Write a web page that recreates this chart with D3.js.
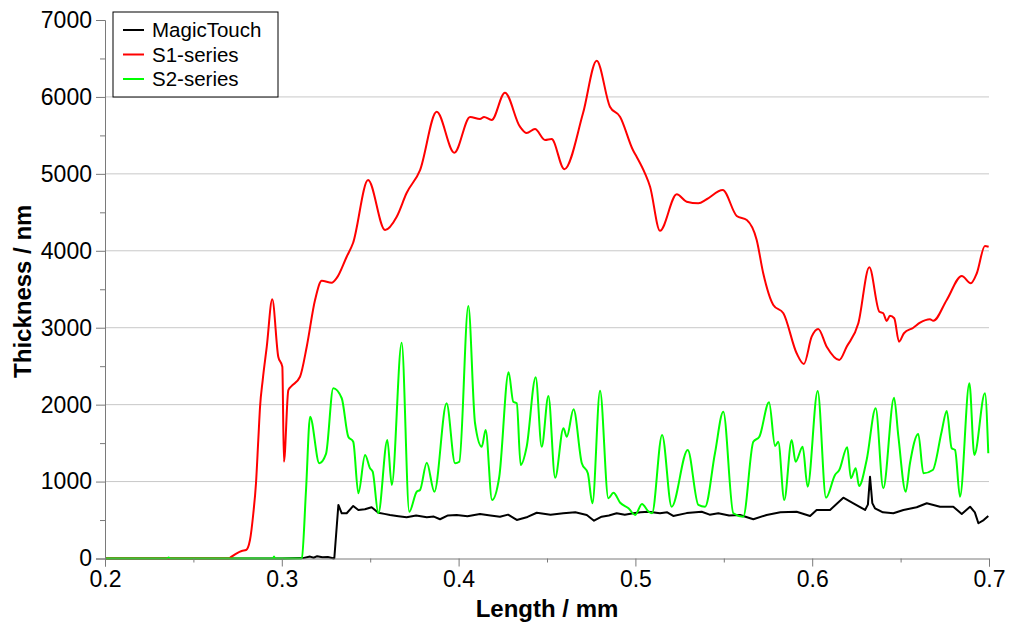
<!DOCTYPE html>
<html>
<head>
<meta charset="utf-8">
<script src="https://cdn.jsdelivr.net/npm/d3@7"></script>
<style>
  html, body { margin: 0; padding: 0; background: #fff; }
  svg { display: block; font-family: "Liberation Sans", Arial, sans-serif; }
</style>
</head>
<body>
<svg id="chart" width="1009" height="624"></svg>
<script>
// Film thickness profiles along the measured length (mm -> nm)
const magicTouchX = [0.2, 0.3, 0.312, 0.316, 0.318, 0.320, 0.323, 0.326, 0.3295, 0.3297, 0.3320, 0.3339, 0.3367, 0.3404, 0.3433, 0.3470, 0.3508, 0.3546, 0.3580, 0.3612, 0.3660, 0.3706, 0.3760, 0.3820, 0.3860, 0.3895, 0.3940, 0.3989, 0.4050, 0.4121, 0.4180, 0.4234, 0.4280, 0.4329, 0.4390, 0.4442, 0.4520, 0.4592, 0.4660, 0.4725, 0.4766, 0.4809, 0.4850, 0.4894, 0.4940, 0.4988, 0.5030, 0.5073, 0.5139, 0.5180, 0.5214, 0.5290, 0.5375, 0.5420, 0.5469, 0.5530, 0.5592, 0.5667, 0.5742, 0.5820, 0.5912, 0.5988, 0.6025, 0.6101, 0.6176, 0.6233, 0.6299, 0.6315, 0.6327, 0.6340, 0.6355, 0.6400, 0.6459, 0.6516, 0.6591, 0.6648, 0.6723, 0.6798, 0.6846, 0.6893, 0.6920, 0.6940, 0.6970, 0.6996];
const magicTouchY = [0, 0, 5, 25, 10, 30, 15, 20, 0, 3, 696, 588, 588, 683, 631, 640, 666, 595, 580, 566, 550, 536, 560, 536, 545, 510, 560, 566, 550, 579, 560, 543, 570, 501, 540, 595, 570, 588, 600, 566, 491, 543, 560, 588, 570, 588, 600, 608, 588, 600, 553, 590, 608, 570, 588, 560, 566, 510, 566, 600, 608, 553, 631, 631, 790, 718, 631, 700, 1063, 720, 653, 600, 588, 631, 666, 718, 673, 673, 579, 673, 600, 458, 500, 553];

const s1X = [0.2, 0.27, 0.2707, 0.2745, 0.2773, 0.2798, 0.2820, 0.2839, 0.2854, 0.2867, 0.2877, 0.2892, 0.2915, 0.2946, 0.2980, 0.3003, 0.3012, 0.3037, 0.3056, 0.3103, 0.3141, 0.3188, 0.3226, 0.3282, 0.3311, 0.3367, 0.3403, 0.3488, 0.3584, 0.3650, 0.3706, 0.3782, 0.3876, 0.3976, 0.4065, 0.4121, 0.4144, 0.4187, 0.4262, 0.4347, 0.4385, 0.4432, 0.4489, 0.4526, 0.4598, 0.4704, 0.4781, 0.4856, 0.4913, 0.4986, 0.5007, 0.5054, 0.5083, 0.5139, 0.5234, 0.5290, 0.5356, 0.5403, 0.5494, 0.5573, 0.5630, 0.5686, 0.5723, 0.5780, 0.5837, 0.5912, 0.5953, 0.5997, 0.6034, 0.6082, 0.6153, 0.6195, 0.6261, 0.6323, 0.6380, 0.6402, 0.6421, 0.6440, 0.6464, 0.6491, 0.6519, 0.6572, 0.6610, 0.6666, 0.6685, 0.6761, 0.6846, 0.6897, 0.6931, 0.6977, 0.6998];
const s1Y = [0, 0, 10, 68, 98, 110, 240, 588, 978, 1540, 1973, 2320, 2753, 3370, 2623, 2493, 1258, 2190, 2243, 2363, 2753, 3360, 3611, 3585, 3647, 3923, 4101, 4920, 4270, 4443, 4751, 5050, 5808, 5275, 5740, 5714, 5740, 5700, 6055, 5613, 5531, 5583, 5440, 5453, 5060, 5791, 6471, 5873, 5743, 5310, 5223, 5007, 4833, 4261, 4735, 4638, 4618, 4670, 4790, 4453, 4400, 4140, 3708, 3296, 3188, 2668, 2529, 2883, 2984, 2753, 2581, 2753, 3058, 3786, 3208, 3188, 3088, 3156, 3123, 2818, 2928, 3000, 3065, 3110, 3091, 3361, 3673, 3578, 3708, 4063, 4053];

const s2X = [0.2, 0.235, 0.236, 0.237, 0.295, 0.2956, 0.2962, 0.311, 0.3113, 0.3137, 0.3160, 0.3212, 0.3250, 0.3291, 0.3339, 0.3376, 0.3404, 0.3433, 0.3471, 0.3499, 0.3514, 0.3546, 0.3597, 0.3622, 0.3678, 0.3721, 0.3763, 0.3782, 0.3820, 0.3863, 0.3932, 0.3980, 0.4004, 0.4055, 0.4093, 0.4131, 0.4153, 0.4189, 0.4230, 0.4283, 0.4309, 0.4329, 0.4351, 0.4385, 0.4436, 0.4470, 0.4508, 0.4546, 0.4593, 0.4612, 0.4650, 0.4697, 0.4731, 0.4757, 0.4800, 0.4847, 0.4876, 0.4914, 0.4961, 0.4999, 0.5037, 0.5075, 0.5094, 0.5151, 0.5205, 0.5296, 0.5356, 0.5394, 0.5450, 0.5497, 0.5554, 0.5610, 0.5667, 0.5701, 0.5756, 0.5790, 0.5808, 0.5842, 0.5884, 0.5906, 0.5946, 0.5974, 0.6031, 0.6078, 0.6129, 0.6153, 0.6198, 0.6219, 0.6246, 0.6265, 0.6308, 0.6359, 0.6402, 0.6463, 0.6487, 0.6529, 0.6553, 0.6600, 0.6629, 0.6682, 0.6732, 0.6761, 0.6789, 0.6808, 0.6836, 0.6889, 0.6917, 0.6977, 0.6996];
const s2Y = [0, 0, 12, 0, 0, 25, 0, 0, 3, 890, 1843, 1238, 1359, 2213, 2083, 1583, 1518, 848, 1346, 1173, 1128, 588, 1541, 956, 2805, 608, 868, 891, 1245, 868, 2018, 1238, 1258, 3283, 1758, 1453, 1671, 761, 1063, 2421, 2038, 2018, 1216, 1453, 2356, 1453, 2113, 1050, 1693, 1583, 1940, 1238, 1108, 718, 2181, 783, 855, 725, 653, 566, 709, 608, 588, 1606, 673, 1411, 696, 673, 1368, 1908, 588, 543, 1518, 1583, 2031, 1463, 1518, 761, 1541, 1258, 1453, 933, 2178, 790, 1086, 1151, 1446, 1043, 1173, 943, 1281, 1953, 913, 2091, 1593, 868, 1238, 1619, 1108, 1151, 1649, 1918, 1433, 1411, 803, 2278, 1346, 2148, 1368];

const xTicks = [0.2, 0.3, 0.4, 0.5, 0.6, 0.7];
const xMinorTicks = [0.25, 0.35, 0.45, 0.55, 0.65];
const yTicks = [0, 1000, 2000, 3000, 4000, 5000, 6000, 7000];
const yMinorTicks = [500, 1500, 2500, 3500, 4500, 5500, 6500];
const gridValues = [1000, 2000, 3000, 4000, 5000, 6000];

const seriesNames = ["MagicTouch", "S1-series", "S2-series"];
const seriesColors = ["#000000", "#ff0000", "#00ff00"];

const svg = d3.select("#chart");
const plot = { left: 105, right: 989, top: 20, bottom: 558.5 };

const x = d3.scaleLinear().domain([0.2, 0.7]).range([plot.left, plot.right]);
const y = d3.scaleLinear().domain([0, 7000]).range([plot.bottom, plot.top]);

// horizontal grid
svg.append("g")
  .selectAll("line")
  .data(gridValues)
  .join("line")
  .attr("x1", plot.left).attr("x2", plot.right)
  .attr("y1", d => y(d)).attr("y2", d => y(d))
  .attr("stroke", "#c8c8c8").attr("stroke-width", 1);

// series (green drawn last so it sits on top along the baseline)
const series = [
  { xs: magicTouchX, ys: magicTouchY, curve: d3.curveLinear },
  { xs: s1X, ys: s1Y, curve: d3.curveMonotoneX },
  { xs: s2X, ys: s2Y, curve: d3.curveMonotoneX }
];
[0, 1, 2].forEach(i => {
  const s = series[i];
  const pts = s.xs.map((v, k) => [v, s.ys[k]]);
  const line = d3.line().x(d => x(d[0])).y(d => y(d[1])).curve(s.curve);
  svg.append("path")
    .datum(pts)
    .attr("d", line)
    .attr("fill", "none")
    .attr("stroke", seriesColors[i])
    .attr("stroke-width", 2)
    .attr("stroke-linejoin", "round");
});

// x axis
svg.append("g").attr("transform", `translate(0,${plot.bottom})`)
  .call(d3.axisBottom(x).tickValues(xTicks).tickFormat(d3.format(".1f")).tickSize(8).tickPadding(4));
svg.append("g").attr("transform", `translate(0,${plot.bottom})`)
  .call(d3.axisBottom(x).tickValues(xMinorTicks).tickFormat("").tickSize(4))
  .call(g => g.select(".domain").remove());

// y axis
svg.append("g").attr("transform", `translate(${plot.left},0)`)
  .call(d3.axisLeft(y).tickValues(yTicks).tickFormat(d3.format("d")).tickSize(9).tickPadding(4));
svg.append("g").attr("transform", `translate(${plot.left},0)`)
  .call(d3.axisLeft(y).tickValues(yMinorTicks).tickFormat("").tickSize(5))
  .call(g => g.select(".domain").remove());

svg.selectAll(".domain").attr("stroke", "#7a7a7a");
svg.selectAll(".tick line").attr("stroke", "#7a7a7a");
svg.selectAll(".tick text")
  .attr("font-family", "'Liberation Sans', Arial, sans-serif")
  .attr("font-size", 23).attr("fill", "#000");

// axis titles
svg.append("text")
  .attr("x", (plot.left + plot.right) / 2).attr("y", 617)
  .attr("text-anchor", "middle")
  .attr("font-size", 24).attr("font-weight", "bold")
  .text("Length / mm");
svg.append("text")
  .attr("transform", `translate(31,${(plot.top + plot.bottom) / 2 + 2}) rotate(-90)`)
  .attr("text-anchor", "middle")
  .attr("font-size", 24).attr("font-weight", "bold")
  .text("Thickness / nm");

// legend
const legend = svg.append("g").attr("transform", "translate(113,12)");
legend.append("rect")
  .attr("width", 165).attr("height", 85)
  .attr("fill", "#fff").attr("stroke", "#000").attr("stroke-width", 1);
seriesNames.forEach((name, i) => {
  const cy = 18 + i * 24.5;
  legend.append("line")
    .attr("x1", 10).attr("x2", 31).attr("y1", cy).attr("y2", cy)
    .attr("stroke", seriesColors[i]).attr("stroke-width", 2);
  legend.append("text")
    .attr("x", 39).attr("y", cy + 7)
    .attr("font-size", 20.5).attr("fill", "#000")
    .text(name);
});
</script>
</body>
</html>
